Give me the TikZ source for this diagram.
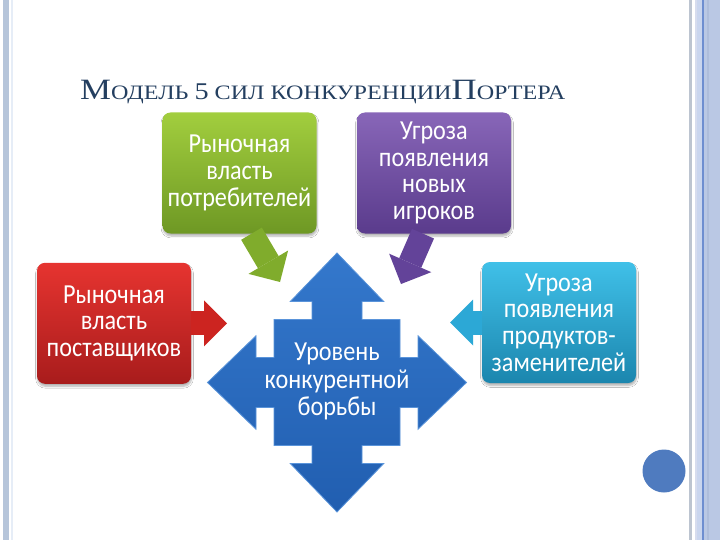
\documentclass[tikz,border=0pt]{standalone}
\usepackage{graphicx}
\usepackage{fontspec}
\setmainfont{Liberation Serif}
\newfontfamily\boxfont[FakeStretch=0.88]{Carlito}
\usepackage{tikz}
\usetikzlibrary{arrows.meta}
\usetikzlibrary{shadows.blur,positioning}

\definecolor{slidetitle}{HTML}{243F60}
\definecolor{sideband}{HTML}{B6C5DA}
\definecolor{sideline}{HTML}{E6EDF7}
\definecolor{railgrey}{HTML}{BCC4D0}
\definecolor{raillight}{HTML}{D6DCEE}
\definecolor{railpale}{HTML}{C9D5EE}
\definecolor{railblue}{HTML}{6E8ED0}
\definecolor{railfill}{HTML}{BAC8E4}
\definecolor{raildark}{HTML}{AEBDDB}
\definecolor{pagedot}{HTML}{4F7BBF}
\definecolor{greenTop}{HTML}{A2CE3E}
\definecolor{greenBottom}{HTML}{6E9824}
\definecolor{greenArrow}{HTML}{80AC2C}
\definecolor{purpleTop}{HTML}{8866B8}
\definecolor{purpleBottom}{HTML}{5A3B8C}
\definecolor{purpleArrow}{HTML}{634399}
\definecolor{redTop}{HTML}{E63430}
\definecolor{redBottom}{HTML}{A81C1C}
\definecolor{redArrow}{HTML}{CC2420}
\definecolor{cyanTop}{HTML}{40C0E8}
\definecolor{cyanBottom}{HTML}{1B86AE}
\definecolor{cyanArrow}{HTML}{2CA8D6}
\definecolor{coreTop}{HTML}{3478CC}
\definecolor{coreBottom}{HTML}{215EB0}
\definecolor{coreEdge}{HTML}{5A94DA}

\begin{document}
\begin{tikzpicture}[x=1pt, y=-1pt,
    forcebox/.style={rounded corners=8pt, minimum width=154pt, minimum height=121pt, align=center, text=white, inner sep=2pt, font=\boxfont\fontsize{27.5}{26.7}\selectfont, blur shadow={shadow xshift=0.5pt, shadow yshift=-2.5pt, shadow opacity=30, shadow blur steps=6}},
    forcearrow/.style={line width=24pt, -{Triangle[length=23pt 0 0, width=46pt 0 0, line width=0pt 0 0]}}]
    \useasboundingbox (0,0) rectangle (720,540);
    \fill[white] (0,0) rectangle (720,540);

    \fill[sideband] (3,0) rectangle (9,540);
    \fill[sideline] (10.5,0) rectangle (12.5,540);
    \fill[railgrey] (689,0) rectangle (691.5,540);
    \fill[raillight] (695,0) rectangle (697,540);
    \fill[railpale] (697,0) rectangle (702,540);
    \fill[railblue] (702,0) rectangle (703.5,540);
    \fill[railfill] (703.5,0) rectangle (720,540);
    \fill[raildark] (707,0) rectangle (709,540);
    \fill[pagedot] (664,471) circle [radius=21.5pt];

    \node[anchor=base west, text=slidetitle, inner sep=0pt] (title) at (80,100) {\resizebox{485pt}{\height}{{\fontsize{29.5}{30}\selectfont М}{\fontsize{20.5}{22}\selectfont ОДЕЛЬ {\fontsize{24}{24}\selectfont 5} СИЛ КОНКУРЕНЦИИ}{\fontsize{29.5}{30}\selectfont П}{\fontsize{20.5}{22}\selectfont ОРТЕРА}}};

    \node[forcebox, top color=greenTop, bottom color=greenBottom] (buyers) at (239.5,173) {Рыночная\\власть\\потребителей};
    \node[forcebox, top color=purpleTop, bottom color=purpleBottom] (entrants) at (434,173) {Угроза\\появления\\новых\\игроков};
    \node[forcebox, top color=redTop, bottom color=redBottom] (suppliers) at (114,323.3) {Рыночная\\власть\\поставщиков};
    \node[forcebox, top color=cyanTop, bottom color=cyanBottom] (substitutes) at (559,322.5) {Угроза\\появления\\продуктов-\\заменителей};

    \coordinate (mid) at (337,382.5);
    \shade[top color=coreTop, bottom color=coreBottom, draw=coreEdge, line width=0.8pt, shift={(mid)}]
        (0,-129.5) -- (46.7,-81) -- (25,-81) -- (25,-63) -- (63,-63) -- (63,-25) -- (81,-25) -- (81,-46.7)
        -- (129.5,0) -- (81,46.7) -- (81,25) -- (63,25) -- (63,63) -- (25,63) -- (25,81) -- (46.7,81)
        -- (0,129.5) -- (-46.7,81) -- (-25,81) -- (-25,63) -- (-63,63) -- (-63,25) -- (-81,25) -- (-81,46.7)
        -- (-129.5,0) -- (-81,-46.7) -- (-81,-25) -- (-63,-25) -- (-63,-63) -- (-25,-63) -- (-25,-81) -- (-46.7,-81) -- cycle;
    \node[text=white, align=center, inner sep=0pt, font=\boxfont\fontsize{27.5}{27.5}\selectfont] (core) at ([yshift=1pt]mid) {Уровень\\конкурентной\\борьбы};

    \coordinate (buyerstip) at (280,282);
    \coordinate (entrantstip) at (401,284);
    \coordinate (supplierstip) at (227,323.3);
    \coordinate (substitutestip) at (450,322.5);

    \draw[forcearrow, greenArrow] ([xshift=12pt]buyers.south) -- (buyerstip);
    \draw[forcearrow, purpleArrow] ([xshift=-11pt]entrants.south) -- (entrantstip);
    \draw[forcearrow, redArrow] (suppliers.east) -- (supplierstip);
    \draw[forcearrow, cyanArrow] (substitutes.west) -- (substitutestip);
\end{tikzpicture}
\end{document}
